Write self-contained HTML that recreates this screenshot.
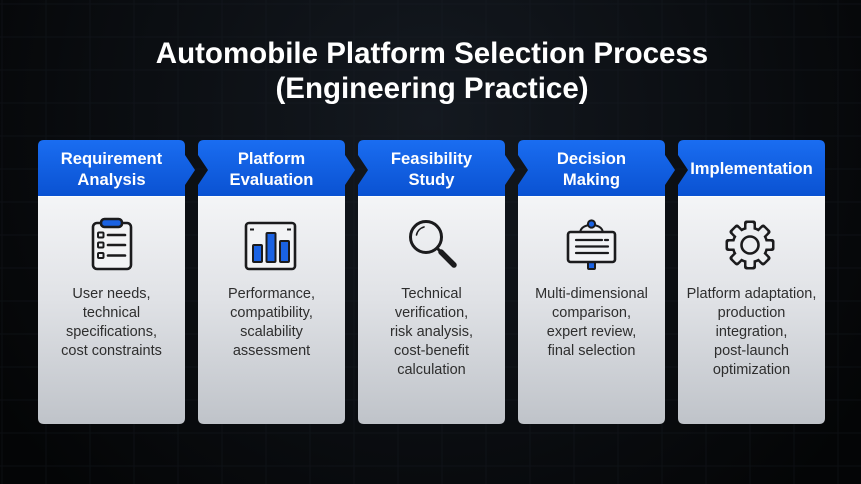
<!DOCTYPE html>
<html>
<head>
<meta charset="utf-8">
<style>
  html, body { margin: 0; padding: 0; background: #07090c; }
  body { width: 861px; height: 484px; overflow: hidden; }
  svg { display: block; }
  text { font-family: "Liberation Sans", Arial, sans-serif; }
</style>
</head>
<body>
<svg width="861" height="484" viewBox="0 0 861 484" xmlns="http://www.w3.org/2000/svg">
  <defs>
    <radialGradient id="bgglow" cx="430" cy="120" r="520" gradientUnits="userSpaceOnUse">
      <stop offset="0" stop-color="#141920"/>
      <stop offset="0.55" stop-color="#0b0e12"/>
      <stop offset="1" stop-color="#040506"/>
    </radialGradient>
    <pattern id="grid" width="44" height="33" patternUnits="userSpaceOnUse" x="2" y="4">
      <rect x="0" y="0" width="44" height="33" fill="none" stroke="#1a2029" stroke-width="1" opacity="0.35"/>
    </pattern>
    <linearGradient id="hdr" x1="0" y1="140" x2="0" y2="196" gradientUnits="userSpaceOnUse">
      <stop offset="0" stop-color="#1a6df1"/>
      <stop offset="1" stop-color="#0a52d2"/>
    </linearGradient>
    <linearGradient id="body" x1="0" y1="196" x2="0" y2="424" gradientUnits="userSpaceOnUse">
      <stop offset="0" stop-color="#f4f5f7"/>
      <stop offset="0.45" stop-color="#e0e2e6"/>
      <stop offset="1" stop-color="#bfc3c9"/>
    </linearGradient>
  </defs>

  <!-- background -->
  <rect x="0" y="0" width="861" height="484" fill="url(#bgglow)"/>
  <rect x="0" y="0" width="861" height="484" fill="url(#grid)"/>

  <!-- title -->
  <text x="432" y="63" text-anchor="middle" font-size="29.5" font-weight="bold" fill="#ffffff">Automobile Platform Selection Process</text>
  <text x="432" y="98" text-anchor="middle" font-size="29.5" font-weight="bold" fill="#ffffff">(Engineering Practice)</text>

  <!-- card bodies -->
  <g fill="url(#body)">
    <path d="M38,196 H185 V418 Q185,424 179,424 H44 Q38,424 38,418 Z"/>
    <path d="M198,196 H345 V418 Q345,424 339,424 H204 Q198,424 198,418 Z"/>
    <path d="M358,196 H505 V418 Q505,424 499,424 H364 Q358,424 358,418 Z"/>
    <path d="M518,196 H665 V418 Q665,424 659,424 H524 Q518,424 518,418 Z"/>
    <path d="M678,196 H825 V418 Q825,424 819,424 H684 Q678,424 678,418 Z"/>
  </g>
  <g stroke="#ffffff" stroke-width="1" opacity="0.8">
    <line x1="38" y1="196.5" x2="185" y2="196.5"/>
    <line x1="198" y1="196.5" x2="345" y2="196.5"/>
    <line x1="358" y1="196.5" x2="505" y2="196.5"/>
    <line x1="518" y1="196.5" x2="665" y2="196.5"/>
    <line x1="678" y1="196.5" x2="825" y2="196.5"/>
  </g>

  <!-- headers -->
  <g fill="url(#hdr)">
    <path d="M38,146 Q38,140 44,140 H179 Q185,140 185,146 V155 L195,170 L185,185 V196 H38 Z"/>
    <path d="M198,146 Q198,140 204,140 H339 Q345,140 345,146 V155 L355,170 L345,185 V196 H198 V185 L208,170 L198,155 Z"/>
    <path d="M358,146 Q358,140 364,140 H499 Q505,140 505,146 V155 L515,170 L505,185 V196 H358 V185 L368,170 L358,155 Z"/>
    <path d="M518,146 Q518,140 524,140 H659 Q665,140 665,146 V155 L675,170 L665,185 V196 H518 V185 L528,170 L518,155 Z"/>
    <path d="M678,146 Q678,140 684,140 H819 Q825,140 825,146 V196 H678 V185 L688,170 L678,155 Z"/>
  </g>

  <!-- header text -->
  <g font-size="16.6" font-weight="bold" fill="#ffffff" text-anchor="middle">
    <text x="111.5" y="164">Requirement</text>
    <text x="111.5" y="185">Analysis</text>
    <text x="271.5" y="164">Platform</text>
    <text x="271.5" y="185">Evaluation</text>
    <text x="431.5" y="164">Feasibility</text>
    <text x="431.5" y="185">Study</text>
    <text x="591.5" y="164">Decision</text>
    <text x="591.5" y="185">Making</text>
    <text x="751.5" y="174">Implementation</text>
  </g>

  <!-- body text -->
  <g font-size="14.5" fill="#2e2e2e" text-anchor="middle">
    <text x="111.5" y="298">User needs,</text>
    <text x="111.5" y="317">technical</text>
    <text x="111.5" y="336">specifications,</text>
    <text x="111.5" y="355">cost constraints</text>

    <text x="271.5" y="298">Performance,</text>
    <text x="271.5" y="317">compatibility,</text>
    <text x="271.5" y="336">scalability</text>
    <text x="271.5" y="355">assessment</text>

    <text x="431.5" y="298">Technical</text>
    <text x="431.5" y="317">verification,</text>
    <text x="431.5" y="336">risk analysis,</text>
    <text x="431.5" y="355">cost-benefit</text>
    <text x="431.5" y="374">calculation</text>

    <text x="591.5" y="298">Multi-dimensional</text>
    <text x="591.5" y="317">comparison,</text>
    <text x="591.5" y="336">expert review,</text>
    <text x="591.5" y="355">final selection</text>

    <text x="751.5" y="298">Platform adaptation,</text>
    <text x="751.5" y="317">production</text>
    <text x="751.5" y="336">integration,</text>
    <text x="751.5" y="355">post-launch</text>
    <text x="751.5" y="374">optimization</text>
  </g>

  <!-- icon 1: clipboard -->
  <g stroke="#1b1b1d" stroke-width="2.6" fill="none" stroke-linecap="round" stroke-linejoin="round">
    <rect x="93" y="223" width="38" height="46" rx="4" fill="#f2f3f5"/>
    <rect x="101" y="219" width="21" height="8" rx="3.5" fill="#1a62e3"/>
    <rect x="98" y="232.5" width="5.5" height="5" rx="1" stroke-width="2"/>
    <rect x="98" y="242.5" width="5.5" height="5" rx="1" stroke-width="2"/>
    <rect x="98" y="253" width="5.5" height="5" rx="1" stroke-width="2"/>
    <line x1="108" y1="235" x2="125" y2="235"/>
    <line x1="108" y1="245" x2="125" y2="245"/>
    <line x1="108" y1="255.5" x2="125" y2="255.5"/>
  </g>

  <!-- icon 2: bar chart -->
  <g stroke="#1b1b1d" stroke-width="2.6" fill="none" stroke-linejoin="round">
    <rect x="246" y="223" width="49" height="46" rx="3" fill="#f2f3f5"/>
    <line x1="250" y1="229.5" x2="254" y2="229.5" stroke-width="2"/>
    <line x1="287" y1="229.5" x2="291" y2="229.5" stroke-width="2"/>
    <rect x="253" y="245" width="9" height="17" rx="1" fill="#1a62e3" stroke-width="2"/>
    <rect x="266.5" y="233" width="9" height="29" rx="1" fill="#1a62e3" stroke-width="2"/>
    <rect x="280" y="241" width="9" height="21" rx="1" fill="#1a62e3" stroke-width="2"/>
  </g>

  <!-- icon 3: magnifier -->
  <g stroke="#1b1b1d" fill="none" stroke-linecap="round">
    <circle cx="426" cy="237" r="15.5" stroke-width="3"/>
    <path d="M416.5,235 A10.5,10.5 0 0 1 424,227" stroke-width="1.6"/>
    <line x1="437.5" y1="248.5" x2="441" y2="252" stroke-width="3"/>
    <line x1="441" y1="252" x2="454" y2="265" stroke-width="5.5"/>
  </g>

  <!-- icon 4: sign board -->
  <g stroke="#1b1b1d" fill="none" stroke-linecap="round" stroke-linejoin="round">
    <path d="M580,232 Q581,227 587,225.5" stroke-width="2"/>
    <path d="M603,232 Q602,227 596,225.5" stroke-width="2"/>
    <circle cx="591.5" cy="224" r="3.6" fill="#1a62e3" stroke-width="2"/>
    <rect x="588" y="262" width="7" height="7" rx="1" fill="#1a62e3" stroke-width="2"/>
    <rect x="568" y="232" width="47" height="30" rx="2.5" fill="#f2f3f5" stroke-width="2.6"/>
    <line x1="576" y1="240" x2="602" y2="240" stroke-width="2.2"/>
    <line x1="605" y1="240" x2="608" y2="240" stroke-width="2.2"/>
    <line x1="576" y1="246.5" x2="608" y2="246.5" stroke-width="2.2"/>
    <line x1="576" y1="253" x2="608" y2="253" stroke-width="2.2"/>
  </g>

  <!-- icon 5: gear -->
  <g transform="translate(750,245)">
    <g fill="#1b1b1d">
      <circle r="18.5"/>
      <rect x="-6" y="-24.5" width="12" height="10" rx="2.5" transform="rotate(0)"/>
      <rect x="-6" y="-24.5" width="12" height="10" rx="2.5" transform="rotate(45)"/>
      <rect x="-6" y="-24.5" width="12" height="10" rx="2.5" transform="rotate(90)"/>
      <rect x="-6" y="-24.5" width="12" height="10" rx="2.5" transform="rotate(135)"/>
      <rect x="-6" y="-24.5" width="12" height="10" rx="2.5" transform="rotate(180)"/>
      <rect x="-6" y="-24.5" width="12" height="10" rx="2.5" transform="rotate(225)"/>
      <rect x="-6" y="-24.5" width="12" height="10" rx="2.5" transform="rotate(270)"/>
      <rect x="-6" y="-24.5" width="12" height="10" rx="2.5" transform="rotate(315)"/>
    </g>
    <g fill="#eceef1">
      <circle r="16"/>
      <rect x="-3.5" y="-22" width="7" height="9" rx="1.5" transform="rotate(0)"/>
      <rect x="-3.5" y="-22" width="7" height="9" rx="1.5" transform="rotate(45)"/>
      <rect x="-3.5" y="-22" width="7" height="9" rx="1.5" transform="rotate(90)"/>
      <rect x="-3.5" y="-22" width="7" height="9" rx="1.5" transform="rotate(135)"/>
      <rect x="-3.5" y="-22" width="7" height="9" rx="1.5" transform="rotate(180)"/>
      <rect x="-3.5" y="-22" width="7" height="9" rx="1.5" transform="rotate(225)"/>
      <rect x="-3.5" y="-22" width="7" height="9" rx="1.5" transform="rotate(270)"/>
      <rect x="-3.5" y="-22" width="7" height="9" rx="1.5" transform="rotate(315)"/>
    </g>
    <circle r="8.5" fill="none" stroke="#1b1b1d" stroke-width="2.6"/>
  </g>
</svg>
</body>
</html>
